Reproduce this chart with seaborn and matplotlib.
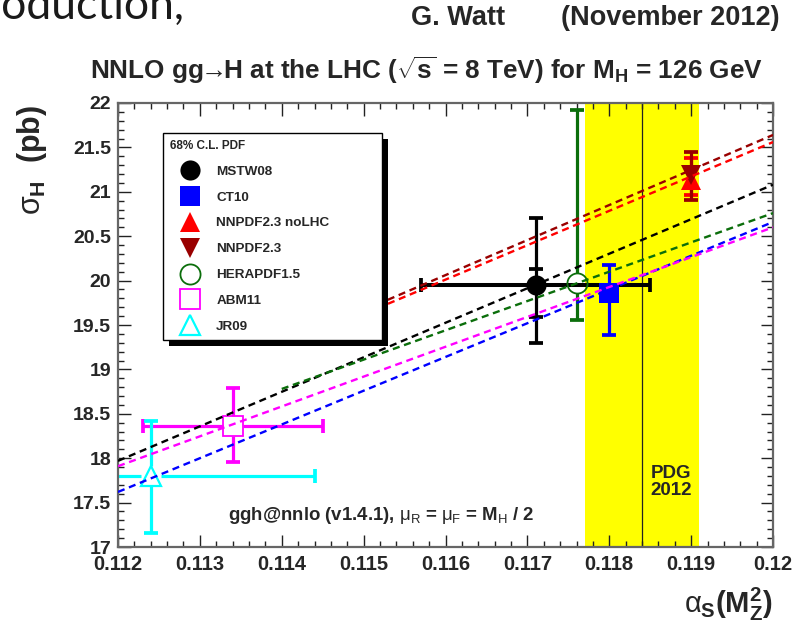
import matplotlib
matplotlib.use("Agg")
import matplotlib.pyplot as plt
from matplotlib.lines import Line2D
from matplotlib.patches import Rectangle
from matplotlib.ticker import MultipleLocator, FuncFormatter
import seaborn as sns

# ---- PDF sets: predicted sigma(gg->H) at each set's own alpha_S(M_Z^2) ----
pdf_sets = ["MSTW08", "CT10", "NNPDF2.3 noLHC", "NNPDF2.3", "HERAPDF1.5", "ABM11", "JR09"]
pdf_colors = ["#000000", "#0000ff", "#ff0000", "#990000", "#0b6e0b", "#ff00ff", "#00ffff"]
pdf_markers = ["o", "s", "^", "v", "o", "s", "^"]
pdf_filled = [True, True, True, True, False, False, False]
alphas_val = [0.1171, 0.1180, 0.1190, 0.1190, 0.1176, 0.1134, 0.1124]
alphas_err = [0.0014, 0.0, 0.0, 0.0, 0.0, 0.0011, 0.0020]
sigma_val = [19.95, 19.86, 21.13, 21.19, 19.97, 18.36, 17.80]
sigma_err_up = [0.76, 0.32, 0.25, 0.26, 1.95, 0.43, 0.62]
sigma_err_dn = [0.65, 0.47, 0.17, 0.28, 0.41, 0.40, 0.64]
# MSTW08 PDF-only uncertainty (inner caps)
mstw_pdf_up = 0.18
mstw_pdf_dn = 0.36

# ---- alpha_S dependence of each set (dashed lines) ----
line_sets = ["MSTW08", "CT10", "NNPDF2.3 noLHC", "NNPDF2.3", "HERAPDF1.5", "ABM11"]
line_alpha = [[0.112, 0.120], [0.112, 0.120], [0.1145, 0.120],
              [0.1145, 0.120], [0.114, 0.120], [0.112, 0.120]]
line_sigma = [[17.97, 21.08], [17.62, 20.66], [19.43, 21.56],
              [19.47, 21.64], [18.78, 20.76], [17.91, 20.60]]

# ---- PDG 2012 world average ----
pdg_alpha = 0.1184
pdg_err = 0.0007

sns.set_style("ticks")
plt.rcParams["font.family"] = ["Liberation Sans", "DejaVu Sans"]
plt.rcParams["mathtext.fontset"] = "custom"
plt.rcParams["mathtext.rm"] = "Liberation Sans:bold"
plt.rcParams["mathtext.bf"] = "Liberation Sans:bold"
plt.rcParams["mathtext.it"] = "Liberation Sans"
plt.rcParams["mathtext.sf"] = "Liberation Sans:bold"

W, H = 805, 627
fig = plt.figure(figsize=(W / 100, H / 100), dpi=100)
ax = fig.add_axes([118 / W, 1 - 547 / H, (773 - 118) / W, (547 - 103) / H])

xmin, xmax, ymin, ymax = 0.112, 0.120, 17.0, 22.0
ax.set_xlim(xmin, xmax)
ax.set_ylim(ymin, ymax)

# PDG band
ax.axvspan(pdg_alpha - pdg_err, pdg_alpha + pdg_err, color="#ffff00", lw=0, zorder=0)
ax.axvline(pdg_alpha, color="#222222", lw=0.9, zorder=0.5)
ax.text(pdg_alpha + 0.00035, 17.73, "PDG\n2012", ha="center", va="center",
        fontsize=13.5, fontweight="bold", linespacing=1.0, zorder=1)

# dashed alpha_S-dependence lines
color_of = dict(zip(pdf_sets, pdf_colors))
for name, xs, ys in zip(line_sets, line_alpha, line_sigma):
    sns.lineplot(x=xs, y=ys, color=color_of[name], ax=ax, lw=1.7,
                 linestyle=(0, (3.0, 2.0)), zorder=3, legend=False)

# error bars and markers
px_x = (xmax - xmin) / 655.0
px_y = (ymax - ymin) / 444.0
cap_ms = 9.5
bar_lw = 2.3


def draw_point(x, y, xe, yu, yd, color, marker, filled, extra_caps=()):
    r = 10.0 if not filled else 0.0
    gx, gy = r * px_x, r * px_y
    kw = dict(color=color, lw=bar_lw, zorder=2.4, solid_capstyle="butt")
    ax.plot([x, x], [y + gy, y + yu], **kw)
    ax.plot([x, x], [y - gy, y - yd], **kw)
    ax.plot([x, x], [y + yu, y - yd], ls="none", marker="_", ms=cap_ms,
            mew=bar_lw + 0.4, color=color, zorder=2.4)
    for c in extra_caps:
        ax.plot([x], [y + c], ls="none", marker="_", ms=cap_ms,
                mew=bar_lw + 0.4, color=color, zorder=2.4)
    if xe > 0:
        hw = bar_lw + (0.6 if filled else 0.0)
        ax.plot([x + gx, min(x + xe, xmax)], [y, y], color=color, lw=hw,
                zorder=2.4, solid_capstyle="butt", clip_on=True)
        ax.plot([max(x - xe, xmin), x - gx], [y, y], color=color, lw=hw,
                zorder=2.4, solid_capstyle="butt", clip_on=True)
        ends = [e for e in (x - xe, x + xe) if xmin <= e <= xmax]
        ax.plot(ends, [y] * len(ends), ls="none", marker="|", ms=cap_ms,
                mew=bar_lw + 0.4, color=color, zorder=2.4)
    ms = 14.5 if marker != "s" else 15
    if filled:
        ax.plot([x], [y], ls="none", marker=marker, ms=ms, color=color,
                mew=0, zorder=2.6)
    else:
        ax.plot([x], [y], ls="none", marker=marker, ms=ms, mfc="none",
                mec=color, mew=1.3 if marker != "^" else 1.6, zorder=2.6)


for i, name in enumerate(pdf_sets):
    extra = (mstw_pdf_up, -mstw_pdf_dn) if name == "MSTW08" else ()
    draw_point(alphas_val[i], sigma_val[i], alphas_err[i], sigma_err_up[i],
               sigma_err_dn[i], pdf_colors[i], pdf_markers[i], pdf_filled[i], extra)

# annotation
ax.text(0.11334, 17.36,
        r"ggh@nnlo (v1.4.1), $\mu_{R}$ = $\mu_{F}$ = M$_{H}$ / 2",
        ha="left", va="center", fontsize=13.4, fontweight="bold", zorder=4)

# axes styling (ROOT-like frame with inward ticks on all sides)
ax.xaxis.set_major_locator(MultipleLocator(0.001))
ax.xaxis.set_minor_locator(MultipleLocator(0.0002))
ax.yaxis.set_major_locator(MultipleLocator(0.5))
ax.yaxis.set_minor_locator(MultipleLocator(0.1))
ax.xaxis.set_major_formatter(FuncFormatter(lambda v, p: f"{v:g}"))
ax.yaxis.set_major_formatter(FuncFormatter(lambda v, p: f"{v:g}"))
ax.tick_params(which="both", direction="in", top=True, right=True,
               color="#222222", width=1.0)
ax.tick_params(which="major", length=9)
ax.tick_params(which="minor", length=4.5)
ax.tick_params(axis="x", which="major", pad=6, labelsize=14.5)
ax.tick_params(axis="y", which="major", pad=5, labelsize=14)
for lab in ax.get_xticklabels() + ax.get_yticklabels():
    lab.set_fontweight("bold")
for sp in ax.spines.values():
    sp.set_color("#666666")
    sp.set_linewidth(1.6)
ax.set_xlabel("")
ax.set_ylabel("")

# legend
handles = []
for i, name in enumerate(pdf_sets):
    ms = 14.5 if pdf_markers[i] != "s" else 15
    if pdf_filled[i]:
        h = Line2D([], [], ls="none", marker=pdf_markers[i], ms=ms,
                   color=pdf_colors[i], mew=0)
    else:
        h = Line2D([], [], ls="none", marker=pdf_markers[i], ms=ms, mfc="none",
                   mec=pdf_colors[i], mew=1.3 if pdf_markers[i] != "^" else 1.6)
    handles.append(h)
leg = ax.legend(handles, pdf_sets, title="68% C.L. PDF", loc="upper left",
                bbox_to_anchor=((163 - 118) / 655, (547 - 133) / 444,
                                (382 - 163) / 655, 0.0),
                mode="expand", frameon=True, fancybox=False, framealpha=1,
                edgecolor="black", facecolor="white", borderpad=0.5,
                handlelength=3.0, handletextpad=0.45, labelspacing=1.0,
                borderaxespad=0.0, prop={"weight": "bold", "size": 9.7},
                title_fontproperties={"weight": "bold", "size": 8.5},
                alignment="left")
leg.get_frame().set_linewidth(1.0)
leg.set_zorder(6)

# figure texts
fig.text(185 / W, 1 - 19 / H, "production,", ha="right", va="baseline",
         fontsize=32, family=["Lato", "DejaVu Sans"], color="#1a1a1a")
fig.text(411 / W, 1 - 18 / H, "G. Watt", ha="left", va="center",
         fontsize=19.5, fontweight="bold")
fig.text(780 / W, 1 - 18 / H, "(November 2012)", ha="right", va="center",
         fontsize=19.5, fontweight="bold")
fig.text(426 / W, 1 - 70 / H,
         r"NNLO gg$\!\!\rightarrow\!\!$H at the LHC ($\sqrt{\mathbf{s}}$"
         r" = 8 TeV) for M$_{\mathbf{H}}$ = 126 GeV",
         ha="center", va="center", fontsize=18.8, fontweight="bold")
fig.text(32 / W, 1 - 160 / H, r"$\sigma_{\mathbf{H}}$  (pb)", rotation=90,
         ha="center", va="center", fontsize=22, fontweight="bold")
fig.text(773 / W, 1 - 604 / H,
         r"$\alpha_{\mathbf{S}}\mathbf{(M^{2}_{Z})}$",
         ha="right", va="center", fontsize=21, fontweight="bold")

# legend drop shadow
fig.canvas.draw()
bb = leg.get_window_extent()
inv = ax.transAxes.inverted()
(x0, y0) = inv.transform((bb.x0 + 6, bb.y0 - 6))
(x1, y1) = inv.transform((bb.x1 + 6, bb.y1 - 6))
ax.add_patch(Rectangle((x0, y0), x1 - x0, y1 - y0, transform=ax.transAxes,
                       facecolor="black", edgecolor="none", zorder=5.5,
                       clip_on=False))

fig.savefig("out.png", dpi=100)
